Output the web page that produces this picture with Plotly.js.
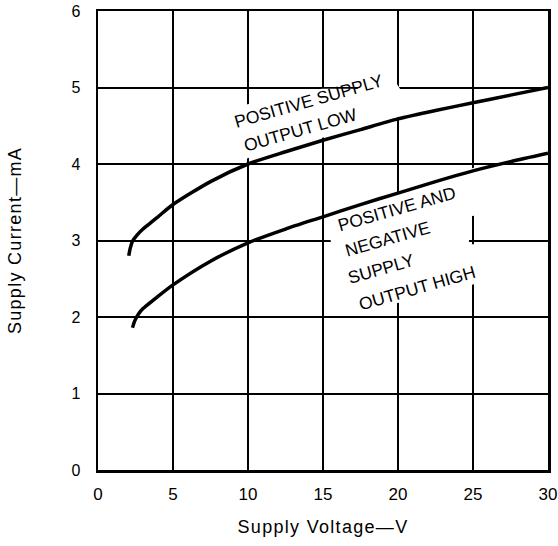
<!DOCTYPE html>
<html>
<head>
<meta charset="utf-8">
<script src="https://cdn.plot.ly/plotly-3.0.1.min.js"></script>
<style>
  html, body { margin: 0; padding: 0; background: #fff; }
  #chart { width: 558px; height: 546px; }
  .xtitle, .ytitle { letter-spacing: 1.3px; }
</style>
</head>
<body>
<div id="chart"></div>
<script>
// ---- data ----
const voltUpper = [2.05, 2.15, 2.3, 2.6, 3, 3.5, 4, 5, 7.5, 10, 12.5, 15, 17.5, 20, 22.5, 25, 27.5, 30];
const currUpper = [2.80, 2.90, 2.99, 3.07, 3.15, 3.23, 3.31, 3.47, 3.77, 4.00, 4.16, 4.31, 4.45, 4.59, 4.70, 4.80, 4.90, 5.00];

const voltLower = [2.3, 2.45, 2.7, 3, 3.5, 4, 5, 7.5, 10, 12.5, 15, 17.5, 20, 22.5, 25, 27.5, 30];
const currLower = [1.86, 1.95, 2.04, 2.11, 2.19, 2.27, 2.42, 2.73, 2.97, 3.15, 3.31, 3.47, 3.62, 3.77, 3.91, 4.03, 4.14];

const xTicks = [0, 5, 10, 15, 20, 25, 30];
const yTicks = [0, 1, 2, 3, 4, 5, 6];

const labelUpper = ["POSITIVE SUPPLY", "OUTPUT LOW"];
const labelLower = ["POSITIVE AND", "NEGATIVE", "SUPPLY", "OUTPUT HIGH"];

const xTitle = "Supply Voltage\u2014V";
const yTitle = "Supply Current\u2014mA";

// ---- layout helpers ----
const FONT = "Liberation Sans, Arial, Helvetica, sans-serif";

// white patches that hide the grid behind the curve labels (as in the original print)
const maskUpper = [[8.93, 4.74], [14.93, 4.985], [17.27, 4.985], [19.33, 5.23], [20.13, 4.985], [20.13, 4.62], [9.13, 4.03]];
const maskLower = [[15.2, 3.23], [19.8, 3.62], [25.2, 3.96], [25.2, 3.33], [24.73, 3.31], [24.73, 2.95], [25.2, 2.95], [25.2, 2.435], [16.8, 2.03]];

function polyPath(pts) {
  return "M " + pts.map(p => p[0] + "," + p[1]).join(" L ") + " Z";
}

const labelPos = {
  upper: [[14.07, 4.82], [13.47, 4.45]],
  lower: [[19.91, 3.41], [19.29, 3.02], [18.85, 2.63], [21.29, 2.38]]
};

function makeLabels(lines, pos, angle) {
  return lines.map((t, i) => ({
    text: t, x: pos[i][0], y: pos[i][1], xref: "x", yref: "y",
    showarrow: false, textangle: angle, xanchor: "center", yanchor: "middle",
    font: { family: FONT, size: 17.5, color: "#000" }
  }));
}

const lineStyle = { color: "#000", width: 3.5, shape: "spline", smoothing: 0.7 };

const traces = [
  { x: voltUpper, y: currUpper, type: "scatter", mode: "lines", line: lineStyle, hoverinfo: "skip" },
  { x: voltLower, y: currLower, type: "scatter", mode: "lines", line: lineStyle, hoverinfo: "skip" }
];

const axisCommon = {
  showgrid: true, gridcolor: "#000", gridwidth: 2,
  showline: true, linecolor: "#000", linewidth: 2.5, mirror: true,
  zeroline: false, ticks: "", fixedrange: true,
  automargin: false
};

const layout = {
  width: 558, height: 546,
  margin: { l: 98, r: 10, t: 11, b: 76, pad: 0 },
  paper_bgcolor: "#fff", plot_bgcolor: "#fff",
  showlegend: false,
  xaxis: Object.assign({}, axisCommon, {
    range: [0, 30], tickvals: xTicks, ticktext: xTicks.map(String),
    ticklabelstandoff: 7,
    tickfont: { family: FONT, size: 17, color: "#000" },
    title: { text: xTitle, font: { family: FONT, size: 18, color: "#000" }, standoff: 18 }
  }),
  yaxis: Object.assign({}, axisCommon, {
    range: [0, 6], tickvals: yTicks, ticktext: yTicks.map(String),
    ticklabelstandoff: 12,
    tickfont: { family: FONT, size: 16, color: "#000" },
    title: { text: yTitle, font: { family: FONT, size: 18, color: "#000" }, standoff: 45 }
  }),
  shapes: [
    { type: "path", xref: "x", yref: "y", path: polyPath(maskUpper), fillcolor: "#fff", line: { width: 0 }, layer: "between" },
    { type: "path", xref: "x", yref: "y", path: polyPath(maskLower), fillcolor: "#fff", line: { width: 0 }, layer: "between" }
  ],
  annotations: makeLabels(labelUpper, labelPos.upper, -16).concat(makeLabels(labelLower, labelPos.lower, -16))
};

Plotly.newPlot("chart", traces, layout, { displayModeBar: false, staticPlot: true });
</script>
</body>
</html>
